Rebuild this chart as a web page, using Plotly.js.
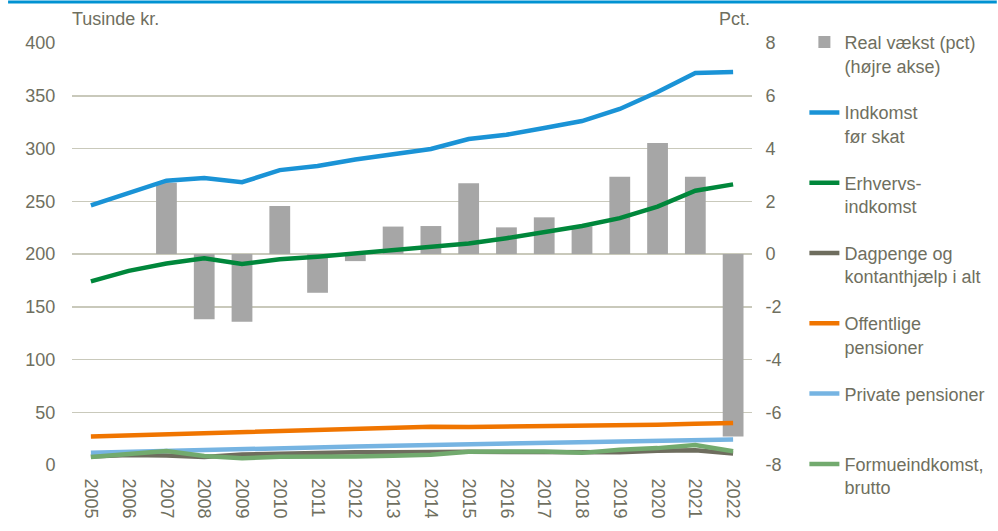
<!DOCTYPE html>
<html>
<head>
<meta charset="utf-8">
<script src="https://cdn.plot.ly/plotly-3.0.1.min.js"></script>
<style>html,body{margin:0;padding:0;background:#fff;}#chart{width:998px;height:531px;}</style>
</head>
<body>
<div id="chart"></div>
<script>
const years = ["2005","2006","2007","2008","2009","2010","2011","2012","2013","2014","2015","2016","2017","2018","2019","2020","2021","2022"];
const realVaekst = [null, null, 2.7, -2.47, -2.57, 1.82, -1.47, -0.27, 1.04, 1.06, 2.68, 1.01, 1.39, 1.05, 2.93, 4.21, 2.93, -6.92];
const indkomstFoerSkat = [246, 258, 269.5, 272, 268, 279.5, 283.5, 289.5, 295, 299.5, 309, 313, 319.5, 326, 337.5, 353.5, 371.5, 372.5];
const erhvervsindkomst = [174, 184, 191, 196, 190.5, 195, 197.5, 200.5, 203, 206, 210, 215, 221, 226.5, 234, 245, 260, 266];
const dagpenge = [8, 9.5, 9, 7.5, 10, 11, 11.5, 12, 12, 12.5, 12.6, 12.3, 12, 11.7, 12.2, 13.5, 14, 11];
const offentligePensioner = [27, 28, 29, 30.3, 31.3, 32.9, 33.8, 35, 35.5, 36.3, 36, 36.3, 36.6, 36.6, 37.6, 38.2, 39.2, 39.7];
const privatePensioner = [11.5, 12.5, 13.5, 14.5, 15.5, 16.3, 17, 17.6, 18.3, 19, 19.7, 20.4, 21, 21.8, 22.3, 22.9, 23.5, 24.2];
const formueindkomst = [7.5, 10, 13.3, 8.5, 6.5, 7.8, 7.5, 8, 8.8, 9.8, 12.6, 12.6, 12.8, 11.5, 14.5, 16, 19, 13];
const rightTickVals = [-8, -6, -4, -2, 0, 2, 4, 6, 8];
const rightTickText = ["-8", "-6", "-4", "-2", "0", "2", "4", "6", "8"];

const FONT = "'Liberation Sans', Arial, sans-serif";
const TXT = "#6f6f60";
const FS = 18;

function line(name, y, color, group, width) {
  return {type: "scatter", mode: "lines", name: name, x: years, y: y, xaxis: "x", yaxis: "y2",
    line: {color: color, width: width || 4.5}, legendgroup: group, hoverinfo: "x+y+name"};
}

const data = [
  {type: "bar", name: "Real vækst (pct)<br>(højre akse)", x: years, y: realVaekst, xaxis: "x", yaxis: "y",
   marker: {color: "#a6a6a6"}, width: 0.55, legendgroup: "g1"},
  line("Indkomst<br>før skat", indkomstFoerSkat, "#1a93d6", "g2"),
  line("Erhvervs-<br>indkomst", erhvervsindkomst, "#00873b", "g3"),
  line("Dagpenge og<br>kontanthjælp i alt", dagpenge, "#6e6d5e", "g4"),
  line("Offentlige<br>pensioner", offentligePensioner, "#f07500", "g5"),
  line("Private pensioner<br> ", privatePensioner, "#76b4e2", "g6"),
  line("Formueindkomst,<br>brutto", formueindkomst, "#72aa6e", "g7")
];

const layout = {
  width: 998, height: 531,
  margin: {l: 72, r: 246, t: 43, b: 66},
  paper_bgcolor: "#ffffff", plot_bgcolor: "#ffffff",
  font: {family: FONT, size: FS, color: TXT},
  showlegend: true,
  xaxis: {type: "category", tickangle: 90, showgrid: false, showline: false, zeroline: false,
    ticks: "outside", ticklen: 9, tickcolor: "rgba(0,0,0,0)", tickfont: {size: FS, color: TXT}},
  yaxis: {side: "right", range: [-8, 8], tickmode: "array", tickvals: rightTickVals, ticktext: rightTickText,
    showgrid: true, gridcolor: "#c9c9bb", gridwidth: 1.5,
    zeroline: false, showline: false, ticks: "outside", ticklen: 9, tickcolor: "rgba(0,0,0,0)",
    tickfont: {size: FS, color: TXT}},
  yaxis2: {side: "left", overlaying: "y", range: [0, 400], dtick: 50, showgrid: false, zeroline: false,
    showline: false, ticks: "outside", ticklen: 12, tickcolor: "rgba(0,0,0,0)", tickfont: {size: FS, color: TXT}},
  legend: {xref: "container", yref: "container", x: 0.806, y: 0.955, xanchor: "left", yanchor: "top",
    valign: "top", tracegroupgap: 20.5, traceorder: "grouped", font: {size: FS, color: TXT},
    bgcolor: "rgba(0,0,0,0)", maxheight: 528},
  shapes: [
    {type: "line", xref: "paper", yref: "paper", x0: -0.094, x1: 1.36, y0: 1.097, y1: 1.097,
     line: {color: "#0092d2", width: 3}}
  ],
  annotations: [
    {text: "Tusinde kr.", xref: "paper", yref: "paper", x: -0.003, y: 1.028, xanchor: "left", yanchor: "bottom",
     showarrow: false, font: {size: FS, color: TXT}},
    {text: "Pct.", xref: "paper", yref: "paper", x: 1.0, y: 1.028, xanchor: "right", yanchor: "bottom",
     showarrow: false, font: {size: FS, color: TXT}}
  ]
};

Plotly.newPlot("chart", data, layout, {displayModeBar: false, staticPlot: true});
</script>
</body>
</html>
